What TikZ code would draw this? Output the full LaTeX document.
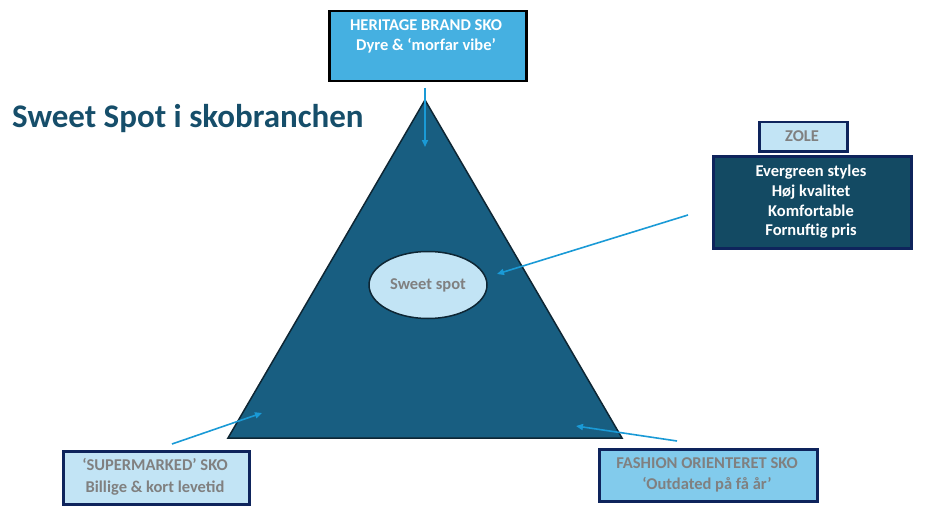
\documentclass[tikz,border=0pt]{standalone}
\usepackage{fontspec}
\setmainfont{Carlito}
\usetikzlibrary{shapes.geometric,arrows.meta}
\definecolor{trifill}{RGB}{24,94,129}
\definecolor{triline}{RGB}{14,38,52}
\definecolor{heritage}{RGB}{69,176,225}
\definecolor{arrowc}{RGB}{26,154,214}
\definecolor{titlec}{RGB}{22,78,106}
\definecolor{lightb}{RGB}{194,228,245}
\definecolor{navy}{RGB}{14,36,92}
\definecolor{darkteal}{RGB}{19,74,99}
\definecolor{fashion}{RGB}{130,203,236}
\definecolor{graytxt}{RGB}{128,128,128}
\tikzset{
  boxbase/.style={draw, rectangle, line width=2.5pt, inner sep=0pt},
  boxtxt/.style={font=\bfseries\fontsize{16.5}{20}\selectfont, align=center, inner sep=0pt},
  conn/.style={draw=arrowc, line width=1.6pt, -{Triangle[length=7pt,width=6pt]}},
}
\begin{document}
\begin{tikzpicture}[x=1pt,y=-1pt]
\useasboundingbox (0,0) rectangle (931,508);
% triangle
\filldraw[fill=trifill, draw=triline, line width=1.5pt] (425,100) -- (622,438) -- (228,438) -- cycle;
% title
\node[anchor=west, text=titlec, font=\bfseries\fontsize{33}{36}\selectfont, inner sep=0pt] (title) at (12,119) {Sweet Spot i skobranchen};
% heritage box
\node[boxbase, fill=heritage, draw=black, minimum width=197pt, minimum height=70pt, anchor=north west] (heritage) at (328,10) {};
\node[boxtxt, text=white] (heritagetxt) at (426,36) {HERITAGE BRAND SKO\\Dyre \& ‘morfar vibe’};
% ZOLE
\node[boxbase, fill=lightb, draw=navy, minimum width=88pt, minimum height=29pt, anchor=north west] (zole) at (758,121) {};
\node[boxtxt, text=graytxt] (zoletxt) at (802,136) {ZOLE};
% evergreen box
\node[boxbase, fill=darkteal, draw=navy, minimum width=198pt, minimum height=92pt, anchor=north west] (ever) at (712,155) {};
\node[boxtxt, text=white, font=\bfseries\fontsize{16.5}{19.7}\selectfont] (evertxt) at (811,202) {Evergreen styles\\Høj kvalitet\\Komfortable\\Fornuftig pris};
% sweet spot ellipse
\node[ellipse, fill=lightb, draw=triline, line width=1.5pt, minimum width=118pt, minimum height=67pt, text=graytxt, font=\bfseries\fontsize{16.5}{20}\selectfont] (sweet) at (428,285) {Sweet spot};
% supermarked
\node[boxbase, fill=lightb, draw=navy, minimum width=186pt, minimum height=53pt, anchor=north west] (super) at (62,450) {};
\node[boxtxt, text=graytxt, font=\bfseries\fontsize{16.5}{22}\selectfont] (supertxt) at (155,477) {‘SUPERMARKED’ SKO\\Billige \& kort levetid};
% fashion
\node[boxbase, fill=fashion, draw=navy, minimum width=218pt, minimum height=52pt, anchor=north west] (fash) at (598,448) {};
\node[boxtxt, text=graytxt, font=\bfseries\fontsize{16.5}{21}\selectfont] (fashtxt) at (707,475) {FASHION ORIENTERET SKO\\‘Outdated på få år’};
% arrows
\coordinate (a1s) at (425,88);
\coordinate (a1e) at (425,147);
\draw[conn] (a1s) -- (a1e);
\coordinate (a2s) at (688,215);
\coordinate (a2e) at (497,274);
\draw[conn] (a2s) -- (a2e);
\coordinate (a3s) at (172,444);
\coordinate (a3e) at (262,413);
\draw[conn] (a3s) -- (a3e);
\coordinate (a4s) at (677,441);
\coordinate (a4e) at (576,426);
\draw[conn] (a4s) -- (a4e);
\end{tikzpicture}
\end{document}
